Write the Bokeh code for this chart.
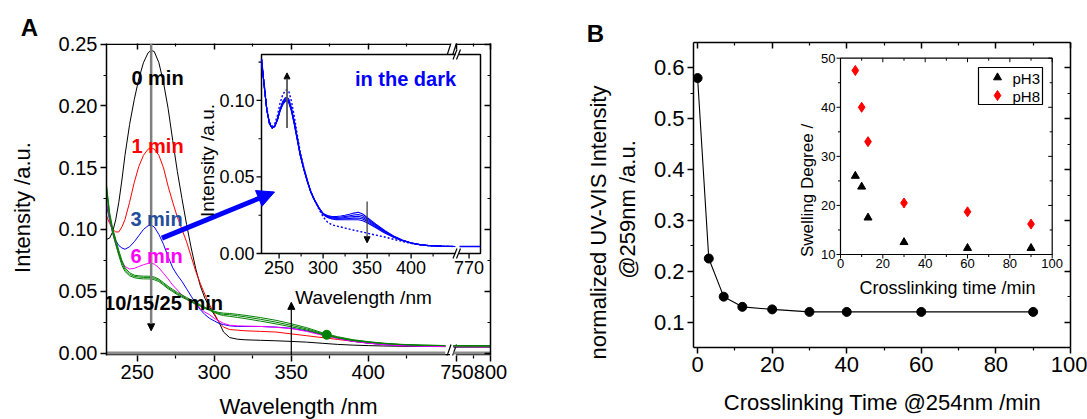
import math
from bokeh.plotting import figure
from bokeh.layouts import row, column
from bokeh.models import (Range1d, FixedTicker, LinearAxis, CustomJSTickFormatter,
                          PrintfTickFormatter, Label, Arrow, NormalHead)
from bokeh.embed import file_html
from bokeh.resources import INLINE
from bokeh.core.properties import value

FONT = "Liberation Sans"

# ===================== DATA : panel A (UV irradiation series) =====================
wavelength = [230, 232, 234, 236, 238, 240, 242, 245, 248, 251,
              254, 257, 259, 261, 264, 267, 270, 273, 276, 279,
              282, 285, 288, 291, 294, 297, 300, 303, 306, 310,
              315, 320, 330, 340, 350, 360, 370, 380, 390, 400,
              410, 420, 435, 450]
spec_0min = [0.092, 0.093, 0.098, 0.108, 0.122, 0.140, 0.160, 0.185, 0.205, 0.222,
             0.235, 0.243, 0.245, 0.244, 0.235, 0.219, 0.198, 0.172, 0.147, 0.125,
             0.104, 0.085, 0.068, 0.054, 0.044, 0.037, 0.031, 0.025, 0.017, 0.0125,
             0.0112, 0.0107, 0.0103, 0.0099, 0.0094, 0.0088, 0.0079, 0.0070, 0.0064, 0.0060,
             0.0057, 0.0055, 0.0053, 0.0052]
spec_1min = [0.111, 0.105, 0.100, 0.098, 0.098, 0.102, 0.108, 0.122, 0.138, 0.151,
             0.160, 0.165, 0.166, 0.165, 0.160, 0.150, 0.135, 0.122, 0.110, 0.100,
             0.090, 0.078, 0.066, 0.056, 0.047, 0.039, 0.032, 0.025, 0.021, 0.019,
             0.0185, 0.018, 0.0175, 0.017, 0.0155, 0.014, 0.0125, 0.011, 0.0095, 0.008,
             0.007, 0.006, 0.0055, 0.0053]
spec_3min = [0.120, 0.108, 0.098, 0.091, 0.087, 0.085, 0.084, 0.086, 0.090, 0.095,
             0.100, 0.103, 0.1035, 0.102, 0.096, 0.088, 0.078, 0.069, 0.063, 0.058,
             0.052, 0.046, 0.040, 0.035, 0.031, 0.028, 0.026, 0.024, 0.023, 0.022,
             0.0215, 0.0215, 0.0215, 0.021, 0.020, 0.018, 0.015, 0.012, 0.0095, 0.008,
             0.0068, 0.006, 0.0055, 0.0053]
spec_6min = [0.122, 0.108, 0.097, 0.088, 0.080, 0.074, 0.070, 0.068, 0.0685, 0.070,
             0.0715, 0.0725, 0.0726, 0.072, 0.069, 0.0645, 0.060, 0.055, 0.051, 0.047,
             0.044, 0.042, 0.039, 0.036, 0.033, 0.031, 0.028, 0.026, 0.024, 0.0225,
             0.022, 0.0218, 0.0215, 0.0208, 0.0198, 0.0175, 0.0145, 0.0118, 0.0095, 0.008,
             0.0068, 0.006, 0.0055, 0.0053]
spec_10min = [0.136, 0.114, 0.101, 0.092, 0.083, 0.075, 0.069, 0.065, 0.063, 0.0625,
              0.0622, 0.0622, 0.062, 0.0615, 0.0598, 0.057, 0.054, 0.0515, 0.049, 0.047,
              0.045, 0.043, 0.041, 0.039, 0.037, 0.0355, 0.0338, 0.0328, 0.0323, 0.032,
              0.0313, 0.0305, 0.0287, 0.0265, 0.0237, 0.0205, 0.0165, 0.0132, 0.0108, 0.0092,
              0.008, 0.0071, 0.0064, 0.0061]
spec_15min = [0.134, 0.112, 0.099, 0.090, 0.081, 0.073, 0.0675, 0.0638, 0.062, 0.0615,
              0.0612, 0.0612, 0.061, 0.0605, 0.0588, 0.056, 0.053, 0.0505, 0.048, 0.046,
              0.044, 0.042, 0.0402, 0.0383, 0.0365, 0.035, 0.0333, 0.032, 0.0313, 0.031,
              0.0302, 0.0293, 0.0273, 0.025, 0.0224, 0.0195, 0.0158, 0.0127, 0.0104, 0.009,
              0.0078, 0.007, 0.0063, 0.006]
spec_25min = [0.132, 0.110, 0.097, 0.088, 0.079, 0.071, 0.066, 0.0625, 0.061, 0.0603,
              0.060, 0.060, 0.0598, 0.0593, 0.0578, 0.055, 0.052, 0.0497, 0.0472, 0.0452,
              0.0433, 0.0413, 0.0395, 0.0377, 0.036, 0.0345, 0.0328, 0.0312, 0.0303, 0.0297,
              0.0288, 0.0279, 0.0258, 0.0236, 0.0212, 0.0186, 0.0152, 0.0123, 0.0101, 0.0088,
              0.0077, 0.0069, 0.0062, 0.006]
# segment after the axis break
wavelength_far = [745, 760, 775, 790, 800]
spec_0min_far = [0.0050, 0.0050, 0.0049, 0.0049, 0.0049]
spec_1min_far = [0.0052, 0.0052, 0.0051, 0.0051, 0.0051]
spec_3min_far = [0.0052, 0.0052, 0.0051, 0.0051, 0.0051]
spec_6min_far = [0.0053, 0.0053, 0.0052, 0.0052, 0.0052]
spec_10min_far = [0.0060, 0.0060, 0.0059, 0.0059, 0.0059]
spec_15min_far = [0.0059, 0.0059, 0.0058, 0.0058, 0.0058]
spec_25min_far = [0.0058, 0.0058, 0.0057, 0.0057, 0.0057]
baseline_wl = [230, 450]
baseline_val = [0.0, 0.0]
baseline_wl_far = [745, 800]
baseline_val_far = [0.0, 0.0]
marker_wl = [373]
marker_val = [0.0148]

# inset A : "in the dark"
dark_wl = [230, 233, 236, 239, 242, 245, 248, 251, 254, 257,
           259, 261, 264, 267, 270, 274, 278, 282, 286, 290,
           295, 300, 305, 310, 315, 320, 325, 330, 335, 340,
           345, 350, 360, 370, 380, 390, 400, 410, 420, 435,
           450]
dark_1 = [0.127, 0.110, 0.094, 0.085, 0.082, 0.083, 0.087, 0.093, 0.097, 0.0995,
          0.0995, 0.0985, 0.093, 0.085, 0.076, 0.064, 0.055, 0.047, 0.040, 0.035,
          0.030, 0.0262, 0.0248, 0.0242, 0.0242, 0.0245, 0.0250, 0.0256, 0.0264, 0.0270,
          0.0258, 0.0235, 0.0192, 0.0150, 0.0115, 0.0088, 0.0070, 0.0059, 0.0052, 0.0048,
          0.0046]
dark_2 = [0.127, 0.110, 0.094, 0.085, 0.082, 0.083, 0.087, 0.093, 0.0975, 0.100,
          0.100, 0.099, 0.0935, 0.0855, 0.0765, 0.0643, 0.0552, 0.0472, 0.0402, 0.0351,
          0.0300, 0.0260, 0.0244, 0.0237, 0.0236, 0.0238, 0.0242, 0.0246, 0.0252, 0.0255,
          0.0246, 0.0226, 0.0186, 0.0146, 0.0113, 0.0087, 0.0069, 0.0058, 0.0052, 0.0048,
          0.0046]
dark_3 = [0.127, 0.110, 0.094, 0.085, 0.082, 0.083, 0.0872, 0.0933, 0.098, 0.1003,
          0.1005, 0.0995, 0.094, 0.086, 0.077, 0.0646, 0.0554, 0.0474, 0.0404, 0.0352,
          0.0300, 0.0258, 0.0241, 0.0233, 0.0231, 0.0232, 0.0235, 0.0238, 0.0241, 0.0243,
          0.0235, 0.0218, 0.0180, 0.0142, 0.0111, 0.0086, 0.0069, 0.0058, 0.0052, 0.0048,
          0.0046]
dark_4 = [0.127, 0.110, 0.094, 0.085, 0.082, 0.0832, 0.0875, 0.0937, 0.0986, 0.101,
          0.1012, 0.1002, 0.0946, 0.0865, 0.0774, 0.0649, 0.0556, 0.0476, 0.0405, 0.0353,
          0.0300, 0.0256, 0.0238, 0.0229, 0.0226, 0.0226, 0.0227, 0.0229, 0.0231, 0.0232,
          0.0225, 0.0210, 0.0174, 0.0138, 0.0108, 0.0085, 0.0068, 0.0057, 0.0051, 0.0047,
          0.0046]
dark_5 = [0.127, 0.110, 0.094, 0.085, 0.082, 0.0834, 0.0878, 0.0942, 0.0992, 0.1017,
          0.102, 0.101, 0.0952, 0.087, 0.0778, 0.0652, 0.0558, 0.0478, 0.0406, 0.0354,
          0.0300, 0.0254, 0.0235, 0.0225, 0.0221, 0.0220, 0.0220, 0.0220, 0.0220, 0.0220,
          0.0214, 0.0201, 0.0168, 0.0134, 0.0106, 0.0084, 0.0068, 0.0057, 0.0051, 0.0047,
          0.0046]
dark_last = [0.127, 0.111, 0.095, 0.086, 0.083, 0.0845, 0.090, 0.098, 0.1035, 0.1065,
             0.107, 0.106, 0.0995, 0.0905, 0.080, 0.0665, 0.0565, 0.048, 0.0405, 0.0350,
             0.0292, 0.0240, 0.0205, 0.0188, 0.0180, 0.0173, 0.0166, 0.0159, 0.0152, 0.0146,
             0.0140, 0.0133, 0.0120, 0.0108, 0.0093, 0.0079, 0.0066, 0.0057, 0.0051, 0.0047,
             0.0046]
dark_wl_far = [745, 770, 800]
dark_val_far = [0.0046, 0.0046, 0.0046]

# ===================== DATA : panel B =====================
crosslink_time = [0, 3, 7, 12, 20, 30, 40, 60, 90]
norm_intensity = [0.58, 0.225, 0.15, 0.13, 0.125, 0.12, 0.12, 0.12, 0.12]
swell_time = [7, 10, 13, 30, 60, 90]
swell_pH3 = [26.0, 23.8, 17.5, 12.5, 11.3, 11.3]
swell_pH8 = [47.5, 40.0, 33.0, 20.5, 18.7, 16.2]

# ===================== ticks =====================
A_xticks = [250, 300, 350, 400]
A_xminor = [275, 325, 375, 425]
A_yticks = [0.0, 0.05, 0.10, 0.15, 0.20, 0.25]
A_yminor = [0.025, 0.075, 0.125, 0.175, 0.225]
IA_xticks = [250, 300, 350, 400]
IA_xlabels = ["250", "300", "350", "400"]
IA_xminor = [275, 325, 375, 425]
IA_far_ticks = [770]
IA_far_labels = ["770"]
IA_yticks = [0.0, 0.05, 0.10]
IA_ylabels = ["0.00", "0.05", "0.10"]
IA_yminor = [0.025, 0.075, 0.125]
B_xticks = [0, 20, 40, 60, 80, 100]
B_xminor = [10, 30, 50, 70, 90]
B_yticks = [0.1, 0.2, 0.3, 0.4, 0.5, 0.6]
B_yminor = [0.15, 0.25, 0.35, 0.45, 0.55]
IB_xticks = [0, 20, 40, 60, 80, 100]
IB_xlabels = ["0", "20", "40", "60", "80", "100"]
IB_xminor = [10, 30, 50, 70, 90]
IB_yticks = [10, 20, 30, 40, 50]
IB_ylabels = ["10", "20", "30", "40", "50"]
IB_yminor = [15, 25, 35, 45]

# ===================== layout (page pixels) =====================
TOTAL_W, TOTAL_H = 1087, 419
ROW_H = 389
SL_W = 50
A_OX, A_W = 50, 512
SM_OX, SM_W = 562, 80
B_OX, B_W = 642, 445

A_L, A_R, A_T, A_B = 106, 490, 43, 355
A_X0, A_PXNM = 230.0, 1.54
A_X1 = A_X0 + (A_R - A_L) / A_PXNM
A_Y0, A_Y1 = -0.002, 0.2505


def ax(px):
    return A_X0 + (px - A_L) / A_PXNM


def ay(py):
    return A_Y0 + (A_B - py) * (A_Y1 - A_Y0) / (A_B - A_T)


FAR_T0 = ax(453)


def far_x(nm):
    return FAR_T0 + (nm - 745) * (A_X1 - FAR_T0) / (800 - 745)


def style_axis(axis, ticker, formatter, size, inward=False, labels=True, line=True):
    axis.ticker = ticker
    axis.formatter = formatter
    axis.axis_line_width = 1.5
    axis.axis_line_color = "black" if line else None
    axis.major_tick_line_width = 1.5
    axis.minor_tick_line_width = 1.2
    axis.major_tick_line_color = "black"
    axis.minor_tick_line_color = "black"
    if inward:
        axis.major_tick_in, axis.major_tick_out = 6, 0
        axis.minor_tick_in, axis.minor_tick_out = 3, 0
    else:
        axis.major_tick_in, axis.major_tick_out = 0, 6
        axis.minor_tick_in, axis.minor_tick_out = 0, 3
    axis.major_label_text_font = FONT
    axis.major_label_text_font_size = f"{size}px" if labels else "0px"
    axis.major_label_text_color = "black"
    axis.major_label_standoff = 3 if labels else 0


def add_label(p, fx, fy, text, px, py, size, bold=False, color="black", angle=0.0, align="center"):
    p.add_layout(Label(x=fx(px), y=fy(py), text=text, text_font=FONT,
                       text_font_size=f"{size}px",
                       text_font_style="bold" if bold else "normal",
                       text_color=color, angle=angle, text_align=align,
                       text_baseline="middle"))


def strip(x0, x1, y0, y1):
    s = figure(width=x1 - x0, height=y1 - y0, x_range=Range1d(x0, x1), y_range=Range1d(y1, y0),
               output_backend="svg", toolbar_location=None, title=None,
               x_axis_location=None, y_axis_location=None,
               min_border_left=0, min_border_right=0, min_border_top=0, min_border_bottom=0,
               outline_line_color=None, background_fill_color="white", border_fill_color="white")
    s.xgrid.visible = False
    s.ygrid.visible = False
    return s


def strip_text(s, text, px, py, size, bold=False, angle=0.0):
    s.text(x=[px], y=[py], text=[text], angle=angle, text_font=value(FONT),
           text_font_size=value(f"{size}px"), text_font_style=value("bold" if bold else "normal"),
           text_color="black", text_align="center", text_baseline="middle")


HIDE = CustomJSTickFormatter(code="return '';")

# ===================== PANEL A =====================
pA = figure(width=A_W, height=ROW_H, x_range=Range1d(A_X0, A_X1), y_range=Range1d(A_Y0, A_Y1),
            output_backend="svg", toolbar_location=None, title=None,
            min_border_left=A_L - A_OX, min_border_right=A_OX + A_W - A_R,
            min_border_top=A_T, min_border_bottom=ROW_H - A_B,
            background_fill_color="white", border_fill_color="white", outline_line_color=None)
pA.xgrid.visible = False
pA.ygrid.visible = False

c750, c775, c800 = far_x(750), far_x(775), far_x(800) - 1e-6
xtA = FixedTicker(ticks=A_xticks + [c750, c800], minor_ticks=A_xminor + [c775])
ytA = FixedTicker(ticks=A_yticks, minor_ticks=A_yminor)
fmtA = CustomJSTickFormatter(args=dict(c750=c750, c800=c800), code="""
if (Math.abs(tick - c750) < 0.01) { return '750'; }
if (Math.abs(tick - c800) < 0.01) { return '800'; }
return tick.toFixed(0);
""")
style_axis(pA.below[0], xtA, fmtA, 20, line=False)
style_axis(pA.left[0], ytA, PrintfTickFormatter(format="%.2f"), 20)
topA = LinearAxis()
style_axis(topA, xtA, HIDE, 0, inward=True, labels=False, line=False)
pA.add_layout(topA, "above")
rightA = LinearAxis()
style_axis(rightA, ytA, HIDE, 0, inward=True, labels=False)
pA.add_layout(rightA, "right")

for yb in (A_T + 0.75, A_B - 0.75):
    pA.segment(x0=[ax(A_L), ax(455.5)], y0=[ay(yb)] * 2, x1=[ax(449.5), ax(A_R)], y1=[ay(yb)] * 2,
               line_color="black", line_width=1.5)
pA.segment(x0=[ax(446.0), ax(451.5)], y0=[ay(357)] * 2, x1=[ax(450.5), ax(456.0)], y1=[ay(344)] * 2,
           line_color="black", line_width=1.2)
pA.segment(x0=[ax(446.5), ax(452.0)], y0=[ay(55)] * 2, x1=[ax(451.0), ax(456.5)], y1=[ay(41)] * 2,
           line_color="black", line_width=1.2)

farA = pA.subplot(x_source=Range1d(745, 800), y_source=Range1d(A_Y0, A_Y1),
                  x_target=Range1d(FAR_T0, A_X1), y_target=Range1d(A_Y0, A_Y1))
series = [(spec_0min, spec_0min_far, "#000000"),
          (spec_1min, spec_1min_far, "#ff0000"),
          (spec_3min, spec_3min_far, "#0000ff"),
          (spec_6min, spec_6min_far, "#ff00ff"),
          (spec_25min, spec_25min_far, "#008000"),
          (spec_15min, spec_15min_far, "#008000"),
          (spec_10min, spec_10min_far, "#008000")]
pA.line(baseline_wl, baseline_val, line_color="#8c8c8c", line_width=3)
farA.line(baseline_wl_far, baseline_val_far, line_color="#8c8c8c", line_width=3)
for near, far, col in series:
    pA.line(wavelength, near, line_color=col, line_width=1)
    farA.line(wavelength_far, far, line_color=col, line_width=1.2)
pA.scatter(marker_wl, marker_val, size=9, color="#008000")

# ---- inset A ----
IA_L, IA_R, IA_T, IA_B = 261, 480, 54, 253
IA_SEG_R = 454.6
IA_FAR_L = 459
IA_PXNM = (IA_SEG_R - IA_L) / 220.0
IA_PXY = (IA_B - IA_T) / 0.13


def iax(nm):
    return ax(IA_L + (nm - 230) * IA_PXNM)


def iay(v):
    return ay(IA_B - v * IA_PXY)


pA.quad(left=ax(IA_L), right=ax(IA_R), top=ay(IA_T), bottom=ay(IA_B),
        fill_color="white", line_color="black", line_width=1.5)
subIA = pA.subplot(x_source=Range1d(230, 450), y_source=Range1d(0, 0.13),
                   x_target=Range1d(ax(IA_L), ax(IA_SEG_R)), y_target=Range1d(ay(IA_B), ay(IA_T)))
subIAr = pA.subplot(x_source=Range1d(745, 800), y_source=Range1d(0, 0.13),
                    x_target=Range1d(ax(IA_FAR_L), ax(IA_R)), y_target=Range1d(ay(IA_B), ay(IA_T)))
for d in [dark_1, dark_2, dark_3, dark_4, dark_5]:
    subIA.line(dark_wl, d, line_color="#0000ff", line_width=1.1)
subIA.line(dark_wl, dark_last, line_color="#0000ff", line_width=1.4, line_dash="2 2")
subIAr.line(dark_wl_far, dark_val_far, line_color="#0000ff", line_width=1.5)

tx5, tx3 = 5 / IA_PXNM, 3 / IA_PXNM
ty5, ty3 = 5 / IA_PXY, 3 / IA_PXY
subIA.segment(x0=[230] * len(IA_yticks), y0=IA_yticks, x1=[230 - tx5] * len(IA_yticks), y1=IA_yticks,
              line_color="black", line_width=1.3)
subIA.segment(x0=[230] * len(IA_yminor), y0=IA_yminor, x1=[230 - tx3] * len(IA_yminor), y1=IA_yminor,
              line_color="black", line_width=1.1)
subIA.segment(x0=IA_xticks, y0=[0] * len(IA_xticks), x1=IA_xticks, y1=[-ty5] * len(IA_xticks),
              line_color="black", line_width=1.3)
subIA.segment(x0=IA_xminor, y0=[0] * len(IA_xminor), x1=IA_xminor, y1=[-ty3] * len(IA_xminor),
              line_color="black", line_width=1.1)
subIAr.segment(x0=IA_far_ticks, y0=[0], x1=IA_far_ticks, y1=[-ty5], line_color="black", line_width=1.3)
subIA.text(x=[230] * len(IA_yticks), y=IA_yticks, text=IA_ylabels, x_offset=-7,
           text_align="right", text_baseline="middle", text_font=value(FONT),
           text_font_size=value("18px"), text_color="black")
subIA.text(x=IA_xticks, y=[0] * len(IA_xticks), text=IA_xlabels, y_offset=7,
           text_align="center", text_baseline="top", text_font=value(FONT),
           text_font_size=value("18px"), text_color="black")
subIAr.text(x=IA_far_ticks, y=[0], text=IA_far_labels, y_offset=7,
            text_align="center", text_baseline="top", text_font=value(FONT),
            text_font_size=value("18px"), text_color="black")

for yb in (IA_T, IA_B):
    pA.segment(x0=[ax(455.0)], y0=[ay(yb)], x1=[ax(458.5)], y1=[ay(yb)], line_color="white", line_width=4)
    pA.segment(x0=[ax(452.5), ax(456.0)], y0=[ay(yb + 5), ay(yb + 5)],
               x1=[ax(456.5), ax(460.0)], y1=[ay(yb - 5), ay(yb - 5)], line_color="black", line_width=1.2)

pA.add_layout(Arrow(x_start=259, y_start=A_Y1, x_end=259, y_end=0.018, line_color="#7f7f7f", line_width=2.5,
                    end=NormalHead(size=7, fill_color="black", line_color="black")))
pA.add_layout(Arrow(x_start=350, y_start=A_Y0, x_end=350, y_end=0.041, line_color="black", line_width=1.2,
                    end=NormalHead(size=7, fill_color="black", line_color="black")))
pA.add_layout(Arrow(x_start=iax(259), y_start=iay(0.082), x_end=iax(259), y_end=iay(0.118),
                    line_color="#555555", line_width=1.8,
                    end=NormalHead(size=6, fill_color="black", line_color="black")))
pA.add_layout(Arrow(x_start=iax(350), y_start=iay(0.034), x_end=iax(350), y_end=iay(0.007),
                    line_color="#333333", line_width=1.2,
                    end=NormalHead(size=6, fill_color="black", line_color="black")))
pA.add_layout(Arrow(x_start=266, y_start=0.093, x_end=ax(274), y_end=ay(191.5),
                    line_color="#0000ff", line_width=5,
                    end=NormalHead(size=17, fill_color="#0000ff", line_color="#0000ff")))

add_label(pA, ax, ay, "0 min", 157, 77, 20, bold=True)
add_label(pA, ax, ay, "1 min", 157, 145, 20, bold=True, color="#ff0000")
add_label(pA, ax, ay, "3 min", 156, 218, 20, bold=True, color="#1f4e9a")
add_label(pA, ax, ay, "6 min", 156, 255, 20, bold=True, color="#ff00ff")
add_label(pA, ax, ay, "10/15/25 min", 163, 302, 20, bold=True)
add_label(pA, ax, ay, "in the dark", 405, 78, 20, bold=True, color="#0000ff")
add_label(pA, ax, ay, "Intensity /a.u.", 207, 160, 19, angle=math.pi / 2)
add_label(pA, ax, ay, "Wavelength /nm", 363, 297, 19)

# ===================== PANEL B =====================
B_L, B_R, B_T, B_B = 693, 1070, 42, 347
B_X0, B_X1 = -1.1, 100.02
B_Y0, B_Y1 = 0.05, 0.65


def bx(px):
    return B_X0 + (px - B_L) * (B_X1 - B_X0) / (B_R - B_L)


def by(py):
    return B_Y0 + (B_B - py) * (B_Y1 - B_Y0) / (B_B - B_T)


pB = figure(width=B_W, height=ROW_H, x_range=Range1d(B_X0, B_X1), y_range=Range1d(B_Y0, B_Y1),
            output_backend="svg", toolbar_location=None, title=None,
            min_border_left=B_L - B_OX, min_border_right=B_OX + B_W - B_R,
            min_border_top=B_T, min_border_bottom=ROW_H - B_B,
            background_fill_color="white", border_fill_color="white", outline_line_color=None)
pB.xgrid.visible = False
pB.ygrid.visible = False
xtB = FixedTicker(ticks=B_xticks, minor_ticks=B_xminor)
ytB = FixedTicker(ticks=B_yticks, minor_ticks=B_yminor)
style_axis(pB.below[0], xtB, PrintfTickFormatter(format="%d"), 22)
style_axis(pB.left[0], ytB, PrintfTickFormatter(format="%.1f"), 22)
topB = LinearAxis()
style_axis(topB, xtB, HIDE, 0, inward=True, labels=False)
pB.add_layout(topB, "above")
rightB = LinearAxis()
style_axis(rightB, ytB, HIDE, 0, inward=True, labels=False)
pB.add_layout(rightB, "right")

pB.line(crosslink_time, norm_intensity, line_color="black", line_width=1.1)
pB.scatter(crosslink_time, norm_intensity, marker="circle", size=9, color="black")

# ---- inset B ----
IB_L, IB_R, IB_T, IB_B = 840, 1051.7, 57.7, 254
IB_PX = (IB_R - IB_L) / 100.0
IB_PY = (IB_B - IB_T) / 40.0
pB.quad(left=bx(IB_L), right=bx(IB_R), top=by(IB_T), bottom=by(IB_B),
        fill_color="white", line_color="black", line_width=1.2)
subIB = pB.subplot(x_source=Range1d(0, 100), y_source=Range1d(10, 50),
                   x_target=Range1d(bx(IB_L), bx(IB_R)), y_target=Range1d(by(IB_B), by(IB_T)))
m4x, m2x = 4 / IB_PX, 2.5 / IB_PX
m4y, m2y = 4 / IB_PY, 2.5 / IB_PY
n, nm_ = len(IB_yticks), len(IB_yminor)
subIB.segment(x0=[0] * n, y0=IB_yticks, x1=[-m4x] * n, y1=IB_yticks, line_color="black", line_width=1)
subIB.segment(x0=[0] * nm_, y0=IB_yminor, x1=[-m2x] * nm_, y1=IB_yminor, line_color="black", line_width=1)
subIB.segment(x0=[100] * n, y0=IB_yticks, x1=[100 - m4x] * n, y1=IB_yticks, line_color="black", line_width=1)
subIB.segment(x0=[100] * nm_, y0=IB_yminor, x1=[100 - m2x] * nm_, y1=IB_yminor, line_color="black", line_width=1)
k, km = len(IB_xticks), len(IB_xminor)
subIB.segment(x0=IB_xticks, y0=[10] * k, x1=IB_xticks, y1=[10 - m4y] * k, line_color="black", line_width=1)
subIB.segment(x0=IB_xminor, y0=[10] * km, x1=IB_xminor, y1=[10 - m2y] * km, line_color="black", line_width=1)
subIB.segment(x0=IB_xticks, y0=[50] * k, x1=IB_xticks, y1=[50 - m4y] * k, line_color="black", line_width=1)
subIB.segment(x0=IB_xminor, y0=[50] * km, x1=IB_xminor, y1=[50 - m2y] * km, line_color="black", line_width=1)
subIB.text(x=[0] * n, y=IB_yticks, text=IB_ylabels, x_offset=-5, text_align="right",
           text_baseline="middle", text_font=value(FONT), text_font_size=value("13px"), text_color="black")
subIB.text(x=IB_xticks, y=[10] * k, text=IB_xlabels, y_offset=4, text_align="center",
           text_baseline="top", text_font=value(FONT), text_font_size=value("13px"), text_color="black")
subIB.scatter(swell_time, swell_pH3, marker="triangle", size=8, color="black")
subIB.scatter(swell_time, swell_pH8, marker="diamond", size=10, color="#ff0000")

pB.quad(left=bx(978), right=bx(1042), top=by(67), bottom=by(104),
        fill_color="white", line_color="black", line_width=1.2)
pB.scatter([bx(997)], [by(77)], marker="triangle", size=8, color="black")
pB.scatter([bx(997)], [by(95)], marker="diamond", size=10, color="#ff0000")
add_label(pB, bx, by, "pH3", 1012, 77.5, 15, align="left")
add_label(pB, bx, by, "pH8", 1012, 95.5, 15, align="left")
add_label(pB, bx, by, "Swelling Degree /", 807, 190, 17, angle=math.pi / 2)
add_label(pB, bx, by, "Crosslinking time /min", 947, 287, 18)

# ===================== text strips outside the plot frames =====================
sL = strip(0, SL_W, 0, ROW_H)
strip_text(sL, "A", 29, 27, 24, bold=True)
strip_text(sL, "Intensity /a.u.", 22, 207, 22, angle=math.pi / 2)

sM = strip(SM_OX, SM_OX + SM_W, 0, ROW_H)
strip_text(sM, "B", 595, 33, 24, bold=True)
strip_text(sM, "normalized UV-VIS Intensity", 598, 222, 22, angle=math.pi / 2)
strip_text(sM, "@259nm /a.u.", 627, 209, 22, angle=math.pi / 2)

sBot = strip(0, TOTAL_W, ROW_H, TOTAL_H)
strip_text(sBot, "Wavelength /nm", 298, 406, 22)
strip_text(sBot, "Crosslinking Time @254nm /min", 882, 402, 22)

# each figure in its own column so that the row does not align their frames
layout = column(row(column(sL), column(pA), column(sM), column(pB)), sBot)
open("out.html", "w").write(file_html(layout, INLINE))
